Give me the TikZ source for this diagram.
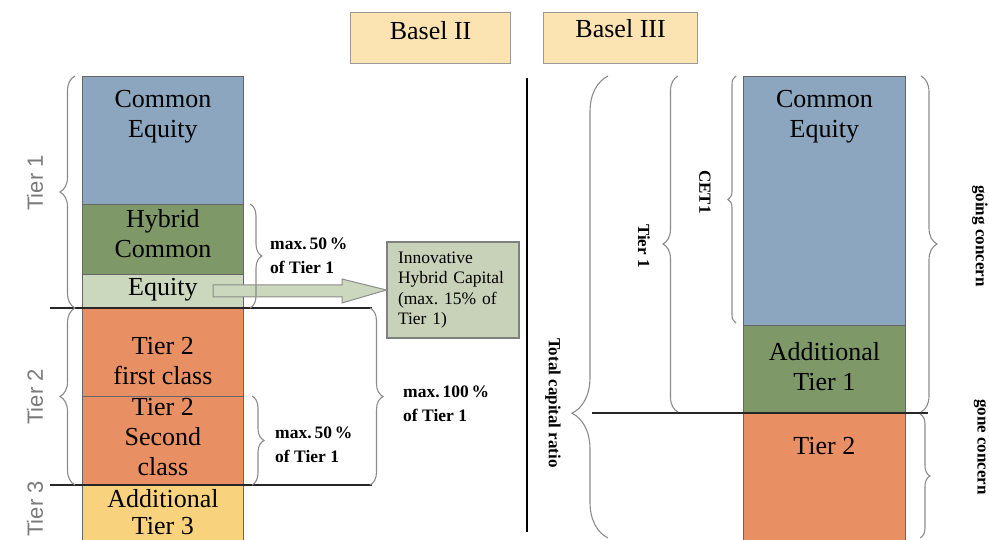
\documentclass[tikz,border=0pt]{standalone}
\usepackage{fontspec}
\setmainfont{Liberation Serif}
\newfontfamily\grsans{Liberation Sans}
\usepackage{tikz}
\usetikzlibrary{positioning, decorations.pathreplacing, calc}
\definecolor{ceblue}{HTML}{8BA6BE}
\definecolor{hygreen}{HTML}{7E9967}
\definecolor{eqgreen}{HTML}{CBD8BE}
\definecolor{torange}{HTML}{E88F64}
\definecolor{tyellow}{HTML}{F8D27D}
\definecolor{bpeach}{HTML}{FBE3B2}
\definecolor{ihgreen}{HTML}{C8D2B8}
\frenchspacing
\tikzset{
  cell/.style ={rectangle, draw=black!60, line width=0.8pt, anchor=north west, inner sep=0pt, align=center, font=\fontsize{26}{30}\selectfont},
  txt/.style  ={inner sep=0pt, align=center, font=\fontsize{26}{30}\selectfont},
  hdr/.style  ={rectangle, draw=black!40, line width=1.2pt, fill=bpeach, anchor=north west, inner sep=0pt},
  ihbox/.style={rectangle, draw=black!50, line width=1.2pt, fill=ihgreen, align=left, inner xsep=11pt, text width=110pt, minimum height=96pt, font=\fontsize{17.5}{20.5}\selectfont},
  bl/.style   ={align=left, inner sep=0pt, font=\bfseries\fontsize{17.5}{24}\selectfont},
  rl/.style   ={inner sep=0pt, rotate=-90, font=\bfseries\fontsize{17}{20}\selectfont},
  tl/.style   ={inner sep=0pt, rotate=90, text=black!52, font=\grsans\fontsize{22}{26}\selectfont},
  brc/.style  ={decorate, decoration={brace, amplitude=#1}, draw=black!45, line width=1.1pt},
  brc/.default=12,
  sepl/.style ={line width=2.2pt, black!85},
  fatarr/.style={fill=eqgreen, draw=black!45, line width=1pt},
}
\begin{document}
\begin{tikzpicture}[x=1pt, y=-1pt]
  \useasboundingbox[fill=white] (0,0) rectangle (989,540);
  \node[hdr, minimum width=160pt, minimum height=51pt, label={[txt, anchor=north, yshift=-9pt]north:Basel II}] (b2) at (350,12) {};
  \node[hdr, minimum width=154pt, minimum height=51pt, label={[txt, anchor=north, yshift=-7pt]north:Basel III}] (b3) at (543,12) {};

  \node[cell, fill=ceblue, minimum width=161pt, minimum height=128pt, label={[txt, anchor=north, yshift=-14pt]north:Common\\Equity}] (ce1) at (82,76) {};
  \node[cell, fill=hygreen, minimum width=161pt, minimum height=70pt, label={[txt, yshift=6pt]center:Hybrid\\Common}] (hc) at (82,204) {};
  \node[cell, fill=eqgreen, minimum width=161pt, minimum height=34pt, label={[txt, yshift=2pt]center:Equity}] (eq) at (82,274) {};
  \node[cell, fill=torange, minimum width=161pt, minimum height=88pt, label={[txt, yshift=-9pt]center:Tier 2\\first class}] (t2a) at (82,308) {};
  \node[cell, fill=torange, minimum width=161pt, minimum height=89pt, label={[txt, yshift=4pt]center:Tier 2\\Second\\class}] (t2b) at (82,396) {};
  \node[cell, fill=tyellow, minimum width=161pt, minimum height=56pt, label={[txt, font=\fontsize{26}{27}\selectfont, anchor=north, yshift=-4pt]north:Additional\\Tier 3}] (t3) at (82,485) {};

  \node[cell, fill=ceblue, minimum width=162pt, minimum height=249pt, label={[txt, anchor=north, yshift=-14pt]north:Common\\Equity}] (ce2) at (743,76) {};
  \node[cell, fill=hygreen, minimum width=162pt, minimum height=88pt, label={[txt, yshift=3pt]center:Additional\\Tier 1}] (at1) at (743,325) {};
  \node[cell, fill=torange, minimum width=162pt, minimum height=130pt, label={[txt, anchor=north, yshift=-24pt]north:Tier 2}] (t2r) at (743,413) {};

  \node[ihbox] (ihc) at (453,290) {Innovative\\Hybrid Capital\\(max. 15\% of\\Tier 1)};
  \draw[fatarr] (213,285) -- (342,285) -- (342,279) -- (ihc.west) -- (342,303) -- (342,297) -- (213,297) -- cycle;

  \coordinate (s1a) at (50,308);  \coordinate (s1b) at (372,308);
  \coordinate (s2a) at (50,485);  \coordinate (s2b) at (372,485);
  \coordinate (s3a) at (592,413); \coordinate (s3b) at (928,413);
  \coordinate (vta) at (527,78);  \coordinate (vtb) at (527,532);
  \draw[sepl] (s1a) -- (s1b);
  \draw[sepl] (s2a) -- (s2b);
  \draw[sepl] (s3a) -- (s3b);
  \draw[line width=2.6pt] (vta) -- (vtb);

  \draw[brc=15] (75,308) -- (75,76);
  \draw[brc=15] (75,485) -- (75,308);
  \draw[brc=12] (250,204) -- (250,308);
  \draw[brc=12] (252,396) -- (252,485);
  \draw[brc=13] (370,308) -- (370,485);
  \draw[decorate, decoration={brace, amplitude=36, aspect=0.27}, draw=black!45, line width=1.1pt] (608,538) -- (608,76);
  \draw[brc=15] (678,412) -- (678,76);
  \draw[brc=8] (736,323) -- (736,76);
  \draw[brc=16] (921,76) -- (921,412);
  \draw[brc=10] (920,414) -- (920,538);

  \node[tl] (tier1) at (35,183) {Tier 1};
  \node[tl] (tier2) at (35,397) {Tier 2};
  \node[tl] (tier3) at (35,509) {Tier 3};
  \node[bl, anchor=west] (mx1) at (270,256) {max.\,50\,\%\\of Tier 1};
  \node[bl, anchor=west] (mx2) at (275,445) {max.\,50\,\%\\of Tier 1};
  \node[bl, anchor=west] (mx3) at (403,404) {max.\,100\,\%\\of Tier 1};
  \node[rl] (tcr) at (553,403) {Total capital ratio};
  \node[rl] (tier1r) at (644,246) {Tier 1};
  \node[rl] (cet1) at (705,192) {CET1};
  \node[rl] (goin) at (980,236) {going concern};
  \node[rl] (gone) at (980,447) {gone concern};
\end{tikzpicture}
\end{document}
